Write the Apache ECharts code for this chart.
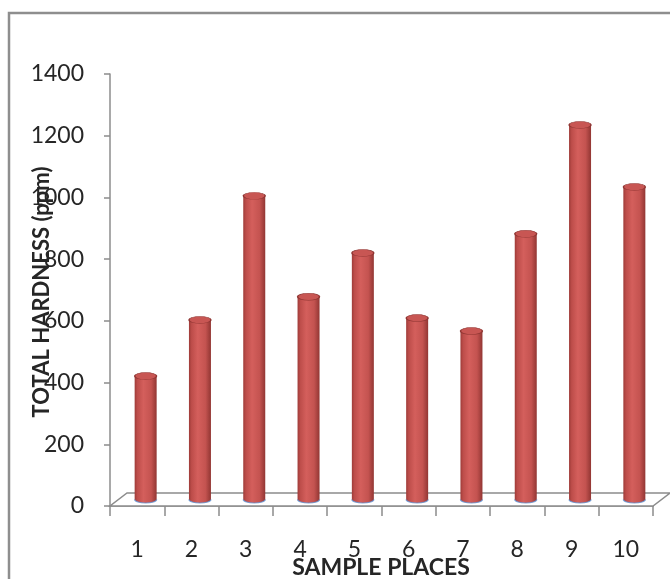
<!DOCTYPE html>
<html>
<head>
<meta charset="utf-8">
<style>
  html, body { margin: 0; padding: 0; background: #fff; }
  #chart { width: 670px; height: 579px; }
</style>
<script src="https://cdn.jsdelivr.net/npm/echarts@6/dist/echarts.min.js"></script>
</head>
<body>
<div id="chart"></div>
<script>
// Sample places and their total hardness in ppm
const categories = ['1', '2', '3', '4', '5', '6', '7', '8', '9', '10'];
const hardness = [400, 582, 984, 657, 799, 588, 546, 861, 1214, 1013];
const yTicks = { min: 0, max: 1400, interval: 200 };

// Floor depth of the pseudo-3D plot (pixels back and up)
const DEPTH_X = 17, DEPTH_Y = 13;
const BAR_W = 22, CAP_RY = 3.5;

const chart = echarts.init(document.getElementById('chart'));

function renderFloor(params, api) {
  const cs = params.coordSys;
  const x0 = cs.x, x1 = cs.x + cs.width, yb = cs.y + cs.height;
  return {
    type: 'polygon',
    shape: { points: [[x0, yb], [x1, yb], [x1 + DEPTH_X, yb - DEPTH_Y], [x0 + DEPTH_X, yb - DEPTH_Y]] },
    style: { fill: '#ffffff', stroke: '#8c8c8c', lineWidth: 1.5 },
    silent: true
  };
}

function renderCylinder(params, api) {
  const idx = api.value(0), val = api.value(1);
  const top = api.coord([idx, val]);
  const base = api.coord([idx, 0]);
  const cx = top[0] + DEPTH_X / 2;
  const yTop = top[1] - DEPTH_Y / 2;
  const yBase = base[1] - DEPTH_Y / 2;
  const l = cx - BAR_W / 2, r = cx + BAR_W / 2, rx = BAR_W / 2;
  const body = 'M' + l + ',' + yTop + ' L' + l + ',' + yBase +
    ' A' + rx + ',' + CAP_RY + ' 0 0 0 ' + r + ',' + yBase +
    ' L' + r + ',' + yTop + ' Z';
  const rim = 'M' + l + ',' + yBase + ' A' + rx + ',' + CAP_RY + ' 0 0 0 ' + r + ',' + yBase;
  return {
    type: 'group',
    children: [
      {
        type: 'path',
        shape: { pathData: body },
        style: {
          fill: new echarts.graphic.LinearGradient(0, 0, 1, 0, [
            { offset: 0, color: '#9e3b38' },
            { offset: 0.12, color: '#bd4d4a' },
            { offset: 0.4, color: '#d45f5c' },
            { offset: 0.75, color: '#c45350' },
            { offset: 1, color: '#923633' }
          ])
        }
      },
      {
        type: 'path',
        shape: { pathData: rim },
        style: { fill: null, stroke: '#5b8fd0', lineWidth: 1.2, opacity: 0.8 }
      },
      {
        type: 'circle',
        x: cx, y: yTop,
        scaleY: CAP_RY / rx,
        shape: { cx: 0, cy: 0, r: rx },
        style: { fill: '#c85653', stroke: '#8e3532', lineWidth: 1.5 }
      }
    ]
  };
}

chart.setOption({
  animation: false,
  backgroundColor: '#ffffff',
  grid: { left: 110, right: 17, top: 74, bottom: 73, containLabel: false },
  xAxis: {
    type: 'category',
    data: categories,
    boundaryGap: true,
    axisLine: { show: true, lineStyle: { color: '#8c8c8c', width: 1.5 } },
    axisTick: { show: true, length: 10, alignWithLabel: false, lineStyle: { color: '#8c8c8c', width: 1.5 } },
    axisLabel: { margin: 32, fontFamily: 'Lato', fontSize: 23, color: '#262626' },
    splitLine: { show: false }
  },
  yAxis: {
    type: 'value',
    min: yTicks.min, max: yTicks.max, interval: yTicks.interval,
    axisLine: { show: true, lineStyle: { color: '#8c8c8c', width: 1.5 } },
    axisTick: { show: true, length: 6, lineStyle: { color: '#8c8c8c', width: 1.5 } },
    axisLabel: {
      margin: 26, fontFamily: 'Lato', fontSize: 23, color: '#262626',
      formatter: (v) => String(v)
    },
    splitLine: { show: false }
  },
  graphic: [
    {
      type: 'rect',
      shape: { x: 9, y: 13, width: 720, height: 700 },
      style: { fill: null, stroke: '#8e8e8e', lineWidth: 2.5 },
      silent: true, z: 100
    },
    {
      type: 'text',
      x: 42, y: 292, rotation: Math.PI / 2,
      style: {
        text: 'TOTAL HARDNESS (ppm)',
        fontFamily: 'Lato', fontWeight: 'bold', fontSize: 22, fill: '#262626',
        align: 'center', verticalAlign: 'middle'
      },
      z: 100
    },
    {
      type: 'text',
      x: 381, y: 568,
      style: {
        text: 'SAMPLE PLACES',
        fontFamily: 'Lato', fontWeight: 'bold', fontSize: 23, fill: '#262626',
        align: 'center', verticalAlign: 'middle'
      },
      z: 100
    }
  ],
  series: [
    {
      type: 'custom',
      name: 'floor',
      renderItem: renderFloor,
      data: [[0, 0]],
      z: 1,
      silent: true
    },
    {
      type: 'custom',
      name: 'Total hardness',
      renderItem: renderCylinder,
      encode: { x: 0, y: 1 },
      data: hardness.map((v, i) => [i, v]),
      z: 2
    }
  ]
});
</script>
</body>
</html>
